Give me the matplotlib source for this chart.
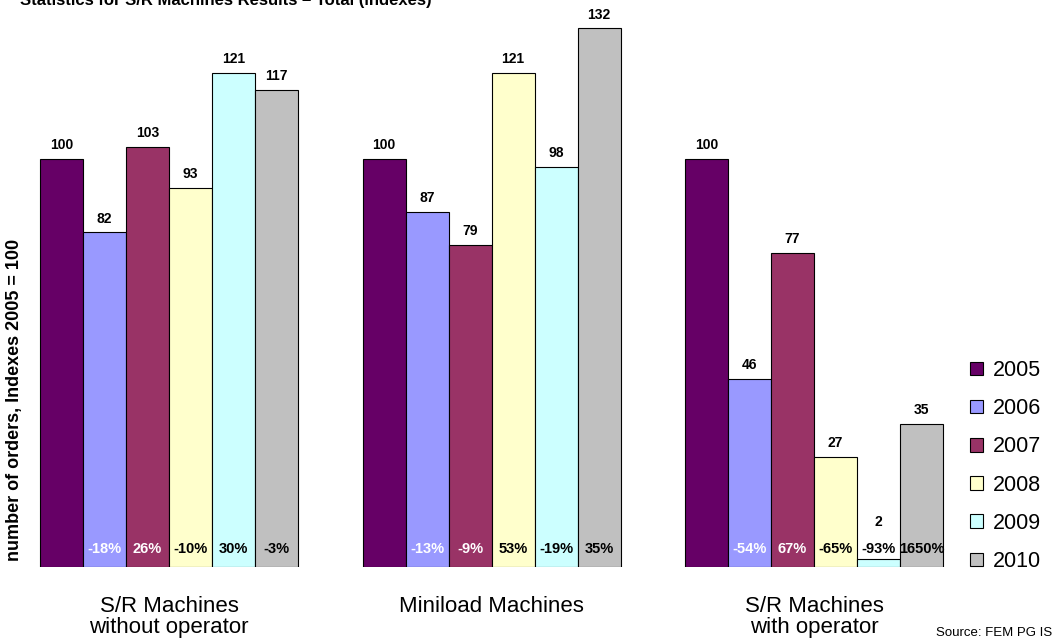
import matplotlib
matplotlib.use("Agg")
import matplotlib.pyplot as plt
import numpy as np
from matplotlib.patches import Patch

plt.rcParams['font.family'] = ['Liberation Sans', 'DejaVu Sans']

groups = ["S/R Machines\nwithout operator", "Miniload Machines", "S/R Machines\nwith operator"]
years = ["2005", "2006", "2007", "2008", "2009", "2010"]
values = {
    "2005": [100, 100, 100],
    "2006": [82, 87, 46],
    "2007": [103, 79, 77],
    "2008": [93, 121, 27],
    "2009": [121, 98, 2],
    "2010": [117, 132, 35],
}
pct_labels = {
    "2006": ["-18%", "-13%", "-54%"],
    "2007": ["26%", "-9%", "67%"],
    "2008": ["-10%", "53%", "-65%"],
    "2009": ["30%", "-19%", "-93%"],
    "2010": ["-3%", "35%", "1650%"],
}
colors = ["#660066", "#9999FF", "#993366", "#FFFFCC", "#CCFFFF", "#C0C0C0"]
pct_colors = ["white", "white", "white", "black", "black", "black"]

W, H = 1059, 644
fig = plt.figure(figsize=(W / 100, H / 100), dpi=100)
ax_left, ax_right = 30, 950
ax_bottom, ax_top = 567, 0
ax = fig.add_axes([ax_left / W, (H - ax_bottom) / H, (ax_right - ax_left) / W, (ax_bottom - ax_top) / H])

px_per_unit = 4.08
bar_w = 1.0
group_step = 7.5
ax.set_xlim((ax_left - 40) / 43 - 0.5, (ax_right - 40) / 43 - 0.5)
ax.set_ylim(0, 567 / px_per_unit)

for i, y in enumerate(years):
    xs = np.arange(len(groups)) * group_step + i * bar_w
    vals = values[y]
    ax.bar(xs, vals, width=bar_w, color=colors[i], edgecolor="black", linewidth=0.8, zorder=2)
    for x, v in zip(xs, vals):
        ax.text(x, max(v + 3.4, 11.0), str(v), ha="center", va="center",
                fontsize=10, fontweight="bold", color="black")
    if y in pct_labels:
        for x, p in zip(xs, pct_labels[y]):
            ax.text(x, 4.4, p, ha="center", va="center", fontsize=10.5,
                    fontweight="bold", color=pct_colors[i], zorder=3)

for g, name in enumerate(groups):
    xc = g * group_step + 2.5
    for k, line in enumerate(name.split("\n")):
        ypix = 606 + 22 * k
        ax.text(xc, (ax_bottom - ypix) / px_per_unit, line, ha="center", va="center",
                fontsize=16, color="black", clip_on=False)

ax.set_xticks([])
ax.set_yticks([])
for s in ax.spines.values():
    s.set_visible(False)

fig.text(15 / W, 1 - 400 / H, "number of orders, Indexes 2005 = 100", rotation=90,
         ha="center", va="center", fontsize=13, fontweight="bold")
fig.text(20 / W, 1 - 5 / H, "Statistics for S/R Machines Results \u2013 Total (indexes)",
         ha="left", va="baseline", fontsize=12, fontweight="bold")
fig.text(1052 / W, 1 - 633 / H, "Source: FEM PG IS", ha="right", va="center", fontsize=9.5)

handles = [Patch(facecolor=c, edgecolor="black", linewidth=0.8) for c in colors]
fig.legend(handles, years, loc="center left", bbox_to_anchor=(970 / W, 1 - 466 / H),
           frameon=False, fontsize=15.5, handlelength=0.6, handleheight=0.6,
           handletextpad=0.45, labelspacing=0.8, borderaxespad=0, borderpad=0)

fig.savefig("out.png", dpi=100)
